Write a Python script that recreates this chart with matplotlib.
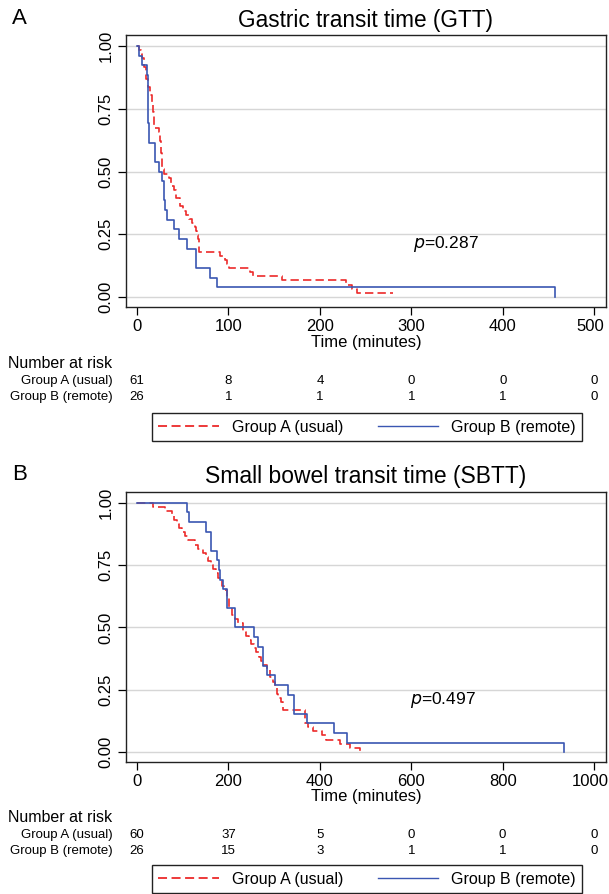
import matplotlib
matplotlib.use("Agg")
import matplotlib.pyplot as plt
from matplotlib.lines import Line2D
from matplotlib.transforms import blended_transform_factory, ScaledTranslation

plt.rcParams["font.family"] = ["Liberation Sans", "DejaVu Sans"]

# ---- data: Gastric transit time (GTT) ----
gtt_a_time = [0, 2, 4, 6, 8, 10, 12, 14, 16, 18, 19, 24, 25, 26, 27, 30, 35, 37, 40, 43,
              47, 50, 54, 57, 60, 63, 65, 66, 67, 68, 91, 96, 98, 101, 123, 127, 158,
              228, 235, 240, 280]
gtt_a_surv = [1.0, 0.984, 0.967, 0.951, 0.918, 0.869, 0.836, 0.803, 0.770, 0.738, 0.672,
              0.656, 0.623, 0.574, 0.508, 0.492, 0.475, 0.443, 0.426, 0.393, 0.361, 0.344,
              0.328, 0.311, 0.295, 0.279, 0.262, 0.246, 0.230, 0.180, 0.164, 0.148, 0.131,
              0.115, 0.098, 0.082, 0.066, 0.049, 0.033, 0.016, 0.016]
gtt_b_time = [0, 2.5, 6, 11, 11.5, 12, 12.5, 13, 20, 24, 27, 29, 31, 33, 40, 46, 55, 65,
              80, 87, 457]
gtt_b_surv = [1.0, 0.962, 0.923, 0.885, 0.846, 0.769, 0.692, 0.615, 0.538, 0.500, 0.462,
              0.385, 0.346, 0.308, 0.269, 0.231, 0.192, 0.115, 0.077, 0.038, 0.0]
gtt_ticks = [0, 100, 200, 300, 400, 500]
gtt_risk_a = [61, 8, 4, 0, 0, 0]
gtt_risk_b = [26, 1, 1, 1, 1, 0]
gtt_p = "0.287"

# ---- data: Small bowel transit time (SBTT) ----
sbtt_a_time = [0, 36, 61, 76, 82, 87, 93, 98, 105, 112, 127, 134, 145, 150, 156, 162, 167,
               172, 178, 185, 190, 196, 202, 207, 215, 222, 233, 238, 244, 250, 255, 260,
               266, 271, 276, 284, 291, 297, 302, 306, 309, 315, 320, 368, 375, 385, 404,
               414, 444, 466, 488]
sbtt_a_surv = [1.0, 0.983, 0.967, 0.950, 0.933, 0.917, 0.900, 0.883, 0.867, 0.850, 0.833,
               0.817, 0.800, 0.783, 0.767, 0.750, 0.733, 0.717, 0.700, 0.667, 0.650, 0.617,
               0.583, 0.550, 0.533, 0.517, 0.483, 0.467, 0.450, 0.433, 0.417, 0.400, 0.383,
               0.367, 0.350, 0.333, 0.300, 0.283, 0.267, 0.233, 0.217, 0.200, 0.167, 0.117,
               0.100, 0.083, 0.067, 0.050, 0.033, 0.017, 0.0]
sbtt_b_time = [0, 109, 114, 152, 161, 174, 180, 182, 189, 196, 214, 256, 264, 275, 284,
               303, 330, 343, 373, 430, 460, 935]
sbtt_b_surv = [1.0, 0.962, 0.923, 0.885, 0.808, 0.769, 0.731, 0.692, 0.654, 0.577, 0.500,
               0.462, 0.423, 0.346, 0.308, 0.269, 0.231, 0.154, 0.115, 0.077, 0.038, 0.0]
sbtt_ticks = [0, 200, 400, 600, 800, 1000]
sbtt_risk_a = [60, 37, 5, 0, 0, 0]
sbtt_risk_b = [26, 15, 3, 1, 1, 0]
sbtt_p = "0.497"

y_ticks = [0.0, 0.25, 0.5, 0.75, 1.0]
y_labels = ["0.00", "0.25", "0.50", "0.75", "1.00"]
group_names = ["Group A (usual)", "Group B (remote)"]

RED = "#ec2a2a"
BLUE = "#3a56b2"

W, H = 609, 894
fig = plt.figure(figsize=(W / 100, H / 100), dpi=100)


def fy(py):
    return 1 - py / H


def panel(letter, title, title_size, ax_top, ax_bot, ta, sa, tb, sb, ticks, xlim,
          risk_a, risk_b, pval, px, risk_y, leg_y):
    ax = fig.add_axes([126 / W, fy(ax_bot), 480 / W, (ax_bot - ax_top) / H])
    ax.step(ta, sa, where="post", color=RED, lw=1.2, dashes=(5, 2.5))
    ax.step(tb, sb, where="post", color=BLUE, lw=1.2)
    ax.set_xlim(*xlim)
    ax.set_ylim(-0.04, 1.044)
    ax.set_xticks(ticks)
    ax.set_yticks(y_ticks)
    ax.set_yticklabels(y_labels, rotation=90, va="center")
    ax.grid(axis="y", color="#d6d6d6", lw=1)
    ax.set_axisbelow(True)
    ax.tick_params(direction="out", length=6, width=0.9, labelsize=12, pad=2.5)
    ax.tick_params(axis="y", pad=3)
    for s in ax.spines.values():
        s.set_linewidth(1.0)
        s.set_color("#222222")
    ax.set_xlabel("Time (minutes)", fontsize=12, labelpad=0.5)
    ax.text(px, 0.21, "$p$=" + pval, fontsize=12.5, va="center", ha="left")

    # keep the last x tick label inside the picture
    last = ax.get_xticklabels()[-1]
    last.set_transform(last.get_transform() + ScaledTranslation(-3 / 72, 0, fig.dpi_scale_trans))

    fig.text(12 / W, fy(ax_top - 17), letter, fontsize=16, va="center", ha="left")
    fig.text(366 / W, fy(ax_top - 15), title, fontsize=title_size, va="center", ha="center")

    # number at risk table
    tr = blended_transform_factory(ax.transData, fig.transFigure)
    fig.text(8 / W, fy(risk_y), "Number at risk", fontsize=11.5, va="center", ha="left")
    for row, (name, vals) in enumerate(zip(group_names, [risk_a, risk_b])):
        yy = fy(risk_y + 18 + 16 * row)
        fig.text(113 / W, yy, name, fontsize=9.5, va="center", ha="right")
        for t, v in zip(ticks, vals):
            fig.text(t, yy, str(v), fontsize=9.5, va="center", ha="center", transform=tr)

    handles = [Line2D([], [], color=RED, lw=1.3, dashes=(5, 2.5)),
               Line2D([], [], color=BLUE, lw=1.0)]
    fig.legend(handles, group_names, loc="lower left", ncol=2, mode="expand",
               bbox_to_anchor=(152 / W, fy(leg_y + 31), 430 / W, 31 / H),
               frameon=True, fancybox=False, edgecolor="#222222", fontsize=11.5,
               handlelength=3.8, borderaxespad=0, borderpad=0.4, framealpha=1)
    return ax


panel("A", "Gastric transit time (GTT)", 16.3, 35, 307, gtt_a_time, gtt_a_surv,
      gtt_b_time, gtt_b_surv, gtt_ticks, (-12, 512.6), gtt_risk_a, gtt_risk_b, gtt_p,
      302, 363, 410)
panel("B", "Small bowel transit time (SBTT)", 16.5, 492, 762, sbtt_a_time, sbtt_a_surv,
      sbtt_b_time, sbtt_b_surv, sbtt_ticks, (-24, 1026), sbtt_risk_a, sbtt_risk_b,
      sbtt_p, 597, 817, 862)

fig.savefig("out.png", dpi=100)
